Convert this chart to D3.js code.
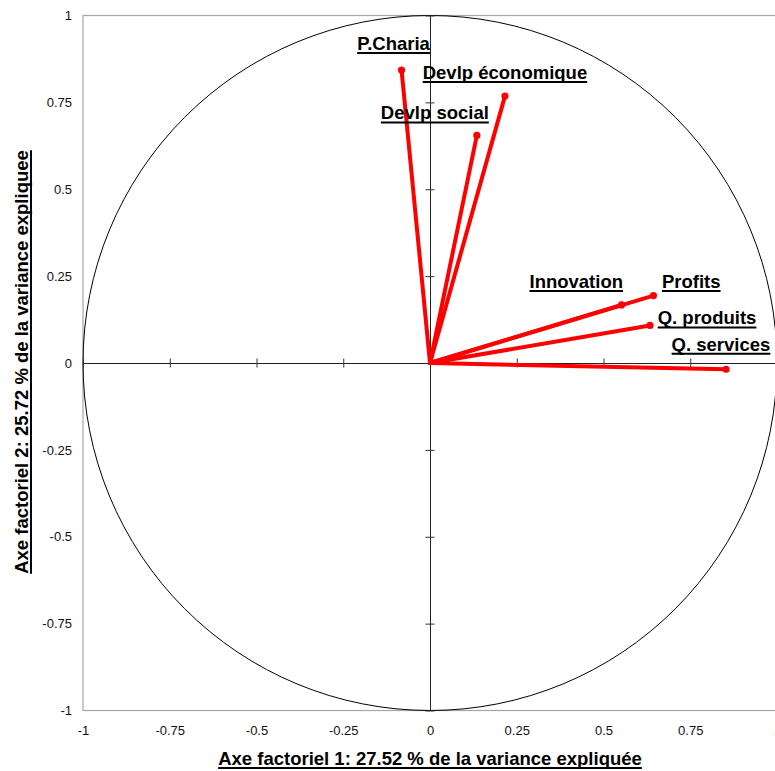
<!DOCTYPE html>
<html>
<head>
<meta charset="utf-8">
<script src="https://cdn.jsdelivr.net/npm/d3@7"></script>
<style>
  html, body { margin: 0; padding: 0; background: #fff; overflow: hidden; }
  svg { display: block; font-family: "Liberation Sans", Arial, sans-serif; }
</style>
</head>
<body>
<svg id="chart" width="775" height="771"></svg>
<script>
// ---- Data ----
const variables = ["P.Charia", "Devlp économique", "Devlp social", "Innovation", "Profits", "Q. produits", "Q. services"];
const factor1 = [-0.082, 0.216, 0.135, 0.552, 0.644, 0.634, 0.853];
const factor2 = [0.843, 0.768, 0.655, 0.167, 0.194, 0.108, -0.018];
const tickValues = [-1, -0.75, -0.5, -0.25, 0, 0.25, 0.5, 0.75, 1];
const tickLabels = ["-1", "-0.75", "-0.5", "-0.25", "0", "0.25", "0.5", "0.75", "1"];
const xTitle = "Axe factoriel 1: 27.52 % de la variance expliquée";
const yTitle = "Axe factoriel 2: 25.72 % de la variance expliquee";

// ---- Layout (label placement relative to each point) ----
const labelLayout = [
  { dx: -8,  dy: -20,  anchor: "middle" },
  { dx: 0,   dy: -17,  anchor: "middle" },
  { dx: -42, dy: -16,  anchor: "middle" },
  { dx: 1.5, dy: -17,  anchor: "end" },
  { dx: 8.5, dy: -7.5, anchor: "start" },
  { dx: 7.7, dy: -1,   anchor: "start" },
  { dx: -5,  dy: -18.5, anchor: "middle" }
];

const svg = d3.select("#chart");
const x = d3.scaleLinear().domain([-1, 1]).range([83, 777]);
const y = d3.scaleLinear().domain([-1, 1]).range([710.5, 15.5]);

// Frame
svg.append("rect")
  .attr("x", x(-1)).attr("y", y(1))
  .attr("width", x(1) - x(-1)).attr("height", y(-1) - y(1))
  .attr("fill", "none").attr("stroke", "#a6a6a6").attr("stroke-width", 1.2);

// Unit circle
svg.append("ellipse")
  .attr("cx", x(0)).attr("cy", y(0))
  .attr("rx", x(1) - x(0)).attr("ry", y(0) - y(1))
  .attr("fill", "none").attr("stroke", "#000").attr("stroke-width", 1);

// Zero axes with cross ticks
const xZero = svg.append("g").attr("transform", `translate(0,${y(0)})`)
  .call(d3.axisBottom(x).tickValues(tickValues).tickFormat("").tickSizeOuter(0));
xZero.select(".domain").attr("stroke", "#222").attr("stroke-width", 1);
xZero.selectAll(".tick line").attr("y1", -4.5).attr("y2", 4.5).attr("stroke", "#333");
xZero.selectAll(".tick text").remove();

const yZero = svg.append("g").attr("transform", `translate(${x(0)},0)`)
  .call(d3.axisLeft(y).tickValues(tickValues).tickFormat("").tickSizeOuter(0));
yZero.select(".domain").attr("stroke", "#222").attr("stroke-width", 1);
yZero.selectAll(".tick line").attr("x1", -4.5).attr("x2", 4.5).attr("stroke", "#333");
yZero.selectAll(".tick text").remove();

// Tick labels (bottom and left)
const fmt = v => tickLabels[tickValues.indexOf(v)];
const xAx = svg.append("g").attr("transform", `translate(0,${y(-1)})`)
  .call(d3.axisBottom(x).tickValues(tickValues).tickFormat(fmt).tickSize(0).tickPadding(15));
xAx.select(".domain").remove();
xAx.selectAll("text").attr("font-size", 13).attr("fill", "#111")
  .attr("font-family", "Liberation Sans, Arial, sans-serif");

const yAx = svg.append("g").attr("transform", `translate(${x(-1)},0)`)
  .call(d3.axisLeft(y).tickValues(tickValues).tickFormat(fmt).tickSize(0).tickPadding(11));
yAx.select(".domain").remove();
yAx.selectAll("text").attr("font-size", 13).attr("fill", "#111")
  .attr("font-family", "Liberation Sans, Arial, sans-serif");

// Helper to draw underlined bold text
function underlined(g, tx, ty, str, anchor, size) {
  const t = g.append("text")
    .attr("x", tx).attr("y", ty)
    .attr("text-anchor", anchor)
    .attr("font-size", size).attr("font-weight", "bold").attr("fill", "#000")
    .text(str);
  const w = t.node().getComputedTextLength();
  let x0 = tx;
  if (anchor === "middle") x0 = tx - w / 2;
  else if (anchor === "end") x0 = tx - w;
  g.append("line")
    .attr("x1", x0).attr("x2", x0 + w)
    .attr("y1", ty + 3).attr("y2", ty + 3)
    .attr("stroke", "#000").attr("stroke-width", 2);
  return t;
}

// Vectors
const data = variables.map((name, i) => ({ name, v1: factor1[i], v2: factor2[i], lay: labelLayout[i] }));
const vec = svg.append("g");
vec.selectAll("line.vec").data(data).enter().append("line")
  .attr("class", "vec")
  .attr("x1", x(0)).attr("y1", y(0))
  .attr("x2", d => x(d.v1)).attr("y2", d => y(d.v2))
  .attr("stroke", "#ff0000").attr("stroke-width", 4).attr("stroke-linecap", "round");
vec.selectAll("circle").data(data).enter().append("circle")
  .attr("cx", d => x(d.v1)).attr("cy", d => y(d.v2)).attr("r", 3.6)
  .attr("fill", "#ff0000");

// Labels
const lab = svg.append("g");
data.forEach(d => {
  underlined(lab, x(d.v1) + d.lay.dx, y(d.v2) + d.lay.dy, d.name, d.lay.anchor, 18.5);
});

// Axis titles
const tg = svg.append("g");
underlined(tg, 430, 765, xTitle, "middle", 18.5);
const yg = svg.append("g").attr("transform", "translate(28,362) rotate(-90)");
underlined(yg, 0, 0, yTitle, "middle", 18.5);
</script>
</body>
</html>
